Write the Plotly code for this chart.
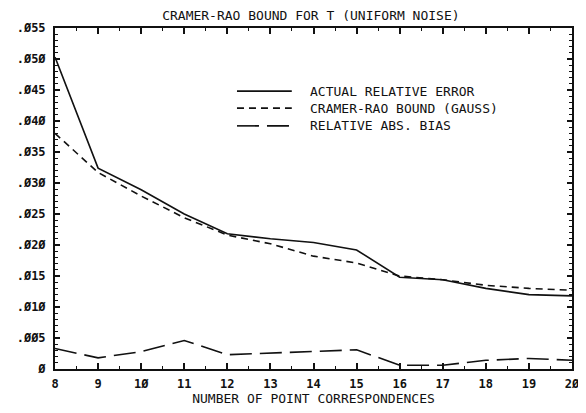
import plotly.graph_objects as go

n_points = [8, 9, 10, 11, 12, 13, 14, 15, 16, 17, 18, 19, 20]
actual_rel_error = [0.0503, 0.0324, 0.0289, 0.0250, 0.0218, 0.0210, 0.0204, 0.0192, 0.0148, 0.0144, 0.0130, 0.0120, 0.0118]
cramer_rao_gauss = [0.0380, 0.0317, 0.0279, 0.0244, 0.0216, 0.0202, 0.0182, 0.0171, 0.0150, 0.0144, 0.0135, 0.0130, 0.0127]
rel_abs_bias = [0.0033, 0.0018, 0.0028, 0.0046, 0.0023, 0.0026, 0.0029, 0.0031, 0.0006, 0.0006, 0.0014, 0.0017, 0.0014]

y_tickvals = [0, 0.005, 0.010, 0.015, 0.020, 0.025, 0.030, 0.035, 0.040, 0.045, 0.050, 0.055]
y_ticktext = ["0", ".005", ".010", ".015", ".020", ".025", ".030", ".035", ".040", ".045", ".050", ".055"]
x_tickvals = n_points
x_ticktext = [str(v).replace("0", "\u00d8") for v in n_points]
y_ticktext = [t.replace("0", "\u00d8") for t in y_ticktext]

series_names = ["ACTUAL RELATIVE ERROR", "CRAMER-RAO BOUND (GAUSS)", "RELATIVE ABS. BIAS"]
series_dash = ["solid", "7px,5px", "22px,8px"]

FONT = "DejaVu Sans Mono"
col = "#111111"

fig = go.Figure()
for vals, dash in zip([actual_rel_error, cramer_rao_gauss, rel_abs_bias], series_dash):
    fig.add_trace(go.Scatter(x=n_points, y=vals, mode="lines",
                             line=dict(color=col, width=1.6, dash=dash),
                             showlegend=False, hoverinfo="skip"))

# custom legend
leg_y = [0.815, 0.765, 0.713]
for name, dash, yy in zip(series_names, series_dash, leg_y):
    fig.add_shape(type="line", xref="paper", yref="paper", x0=0.352, x1=0.458, y0=yy, y1=yy,
                  line=dict(color=col, width=1.6, dash=dash))
    fig.add_annotation(xref="paper", yref="paper", x=0.489, y=yy, text=name, showarrow=False,
                       xanchor="left", yanchor="middle",
                       font=dict(family=FONT, size=13, color=col))

# page has an 8px body margin: figure is sized/positioned to compensate
fig.update_layout(
    width=578, height=405,
    margin=dict(l=47, r=14, t=20, b=44, autoexpand=False),
    paper_bgcolor="white", plot_bgcolor="white",
    title=dict(text="CRAMER-RAO BOUND FOR T (UNIFORM NOISE)", x=0.524, xanchor="center",
               y=0.993, yanchor="top", font=dict(family=FONT, size=13, color=col)),
    font=dict(family=FONT, color=col),
)
fig.update_xaxes(range=[8, 20], tickvals=x_tickvals, ticktext=x_ticktext, automargin=False,
                 ticks="inside", ticklen=6, tickwidth=1.5, tickcolor=col, ticklabelstandoff=3,
                 minor=dict(dtick=0.5, tick0=8, ticks="inside", ticklen=3, tickwidth=1.2, tickcolor=col),
                 showline=True, linecolor=col, linewidth=2, mirror="ticks",
                 showgrid=False, zeroline=False,
                 tickfont=dict(family=FONT, size=12, color=col, weight="bold"),
                 title=dict(text="NUMBER OF POINT CORRESPONDENCES", standoff=3,
                            font=dict(family=FONT, size=13, color=col)))
fig.update_yaxes(range=[0, 0.055], tickvals=y_tickvals, ticktext=y_ticktext, automargin=False,
                 ticks="inside", ticklen=5, tickwidth=1.5, tickcolor=col, ticklabelstandoff=5,
                 minor=dict(dtick=0.001, tick0=0, ticks="inside", ticklen=3, tickwidth=1.2, tickcolor=col),
                 showline=True, linecolor=col, linewidth=2, mirror="ticks",
                 showgrid=False, zeroline=False,
                 tickfont=dict(family=FONT, size=12, color=col, weight="bold"))

fig.write_html("out.html")
